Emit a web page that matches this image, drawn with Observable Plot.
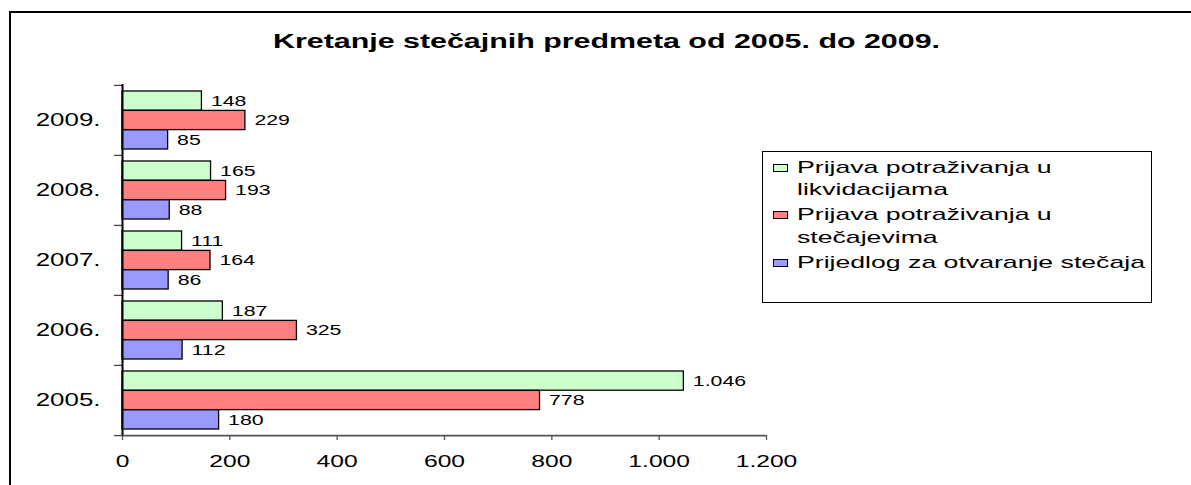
<!DOCTYPE html>
<html><head><meta charset="utf-8">
<script src="https://cdn.jsdelivr.net/npm/d3@7"></script>
<script src="https://cdn.jsdelivr.net/npm/@observablehq/plot@0.6"></script>
<style>
body{margin:0;background:#fff;overflow:hidden;font-family:"Liberation Sans",Arial,sans-serif;color:#000;}
#wrap{position:relative;width:1191px;height:485px;overflow:hidden;background:#fff;}
#chart{position:absolute;left:0;top:0;}
#frame{position:absolute;left:9px;top:11px;width:1300px;height:600px;border:2px solid #000;box-sizing:border-box;pointer-events:none;}
#title{position:absolute;left:273px;top:32px;white-space:nowrap;font-weight:bold;font-size:19.5px;line-height:1;transform-origin:0 0;}
#legend{position:absolute;left:762px;top:151px;width:390px;height:152px;border:1px solid #000;box-sizing:border-box;background:#fff;}
.lg-line{position:absolute;white-space:nowrap;font-size:17px;line-height:1;transform-origin:0 0;}
.lg-sw{position:absolute;width:15px;height:8px;border:1px solid #000;box-sizing:border-box;}
</style>
</head><body>
<div id="wrap">
  <div id="chart"></div>
  <div id="frame"></div>
  <div id="title"></div>
  <div id="legend"></div>
</div>
<script>
// ---- data ----
const title = "Kretanje stečajnih predmeta od 2005. do 2009.";
const years = ["2009.", "2008.", "2007.", "2006.", "2005."];
const likvidacije = [148, 165, 111, 187, 1046];
const stecajevi   = [229, 193, 164, 325, 778];
const prijedlozi  = [85, 88, 86, 112, 180];
const seriesNames = [
  ["Prijava potraživanja u", "likvidacijama"],
  ["Prijava potraživanja u", "stečajevima"],
  ["Prijedlog za otvaranje stečaja"]
];
const seriesColors = ["#CCFFCC", "#FF8080", "#9999FF"];
const xTicks = [0, 200, 400, 600, 800, 1000, 1200];

// ---- layout ----
const W = 1191, H = 485, mt = 84, mb = 50, ml = 122, mr = 425;
const step = (H - mt - mb) / years.length;
const pad = 6;
const bh = (step - 2 * pad) / 3;

const rows = years.map((y, i) => ({year: y, v1: likvidacije[i], v2: stecajevi[i], v3: prijedlozi[i]}));
const fmt = d3.formatLocale({decimal: ",", thousands: ".", grouping: [3], currency: ["", ""]}).format(",");

const series = [
  {key: "v1", top: pad, bottom: pad + 2 * bh, dy: -bh},
  {key: "v2", top: pad + bh, bottom: pad + bh, dy: 0},
  {key: "v3", top: pad + 2 * bh, bottom: pad, dy: bh}
];

const marks = [];
series.forEach((s, i) => {
  marks.push(Plot.barX(rows, {y: "year", x: s.key, fill: seriesColors[i], stroke: "#000", strokeWidth: 1.3,
    insetTop: s.top, insetBottom: s.bottom}));
});
series.forEach((s) => {
  marks.push(Plot.text(rows, {y: "year", x: s.key, text: d => fmt(d[s.key]), dx: 9, dy: s.dy,
    textAnchor: "start", fontSize: 15, fill: "#000"}));
});
marks.push(
  Plot.ruleY(["2005."], {dy: step / 2, stroke: "#555", strokeWidth: 1.6}),
  Plot.axisY({tickSize: 8, dy: -step / 2, text: null, stroke: "#444", strokeWidth: 1.3}),
  Plot.axisY(["2005."], {tickSize: 8, dy: step / 2, text: null, stroke: "#444", strokeWidth: 1.3}),
  Plot.axisY({tickSize: 0, tickPadding: 22, fontSize: 18}),
  Plot.axisX(xTicks, {tickSize: 5, tickPadding: 14, fontSize: 17, tickFormat: fmt, stroke: "#555", strokeWidth: 1.3}),
  Plot.ruleX([0], {stroke: "#000", strokeWidth: 2})
);

const svg = Plot.plot({
  width: W, height: H,
  marginTop: mt, marginBottom: mb, marginLeft: ml, marginRight: mr,
  style: {fontFamily: "'Liberation Sans', Arial, sans-serif", fontSize: "15px", color: "#000", background: "transparent"},
  x: {domain: [0, 1200], label: null},
  y: {domain: years, padding: 0, label: null},
  marks
});
document.getElementById("chart").appendChild(svg);

// horizontally stretched text like the original rendering (scale about the anchor point)
function stretch(sel, k) {
  svg.querySelectorAll(sel).forEach(t => {
    const x = +(t.getAttribute("x") || 0);
    const tr = t.getAttribute("transform") || "";
    t.setAttribute("transform", `${tr} translate(${x},0) scale(${k},1) translate(${-x},0)`);
  });
}
stretch('g[aria-label="text"] text', 1.42);
stretch('g[aria-label="y-axis tick label"] text', 1.44);
stretch('g[aria-label="x-axis tick label"] text', 1.45);

// title
const tEl = document.getElementById("title");
const tSpan = document.createElement("span");
tSpan.style.display = "inline-block";
tSpan.textContent = title;
tEl.appendChild(tSpan);
const tw = tSpan.getBoundingClientRect().width;
tEl.style.transform = `scaleX(${667 / tw})`;

// legend
const lg = document.getElementById("legend");
const lgLeft = 762, lgTop = 151;
const baselines = [[172, 194], [219, 242], [267]];
const lines = [];
seriesNames.forEach((names, i) => {
  const sw = document.createElement("div");
  sw.className = "lg-sw";
  sw.style.background = seriesColors[i];
  sw.style.left = (772 - lgLeft) + "px";
  sw.style.top = (baselines[i][0] - 9 - lgTop) + "px";
  lg.appendChild(sw);
  names.forEach((nm, j) => {
    const d = document.createElement("div");
    d.className = "lg-line";
    d.textContent = nm;
    d.style.left = (796 - lgLeft) + "px";
    d.style.top = (baselines[i][j] - 14.4 - lgTop) + "px";
    lg.appendChild(d);
    lines.push(d);
  });
});
const ref = lines[lines.length - 1];
const span = document.createElement("span");
span.textContent = ref.textContent;
span.style.cssText = "font-size:17px;white-space:nowrap;position:absolute;visibility:hidden";
document.body.appendChild(span);
const kL = 348 / span.getBoundingClientRect().width;
span.remove();
lines.forEach(d => d.style.transform = `scaleX(${kL})`);
</script>
</body></html>
